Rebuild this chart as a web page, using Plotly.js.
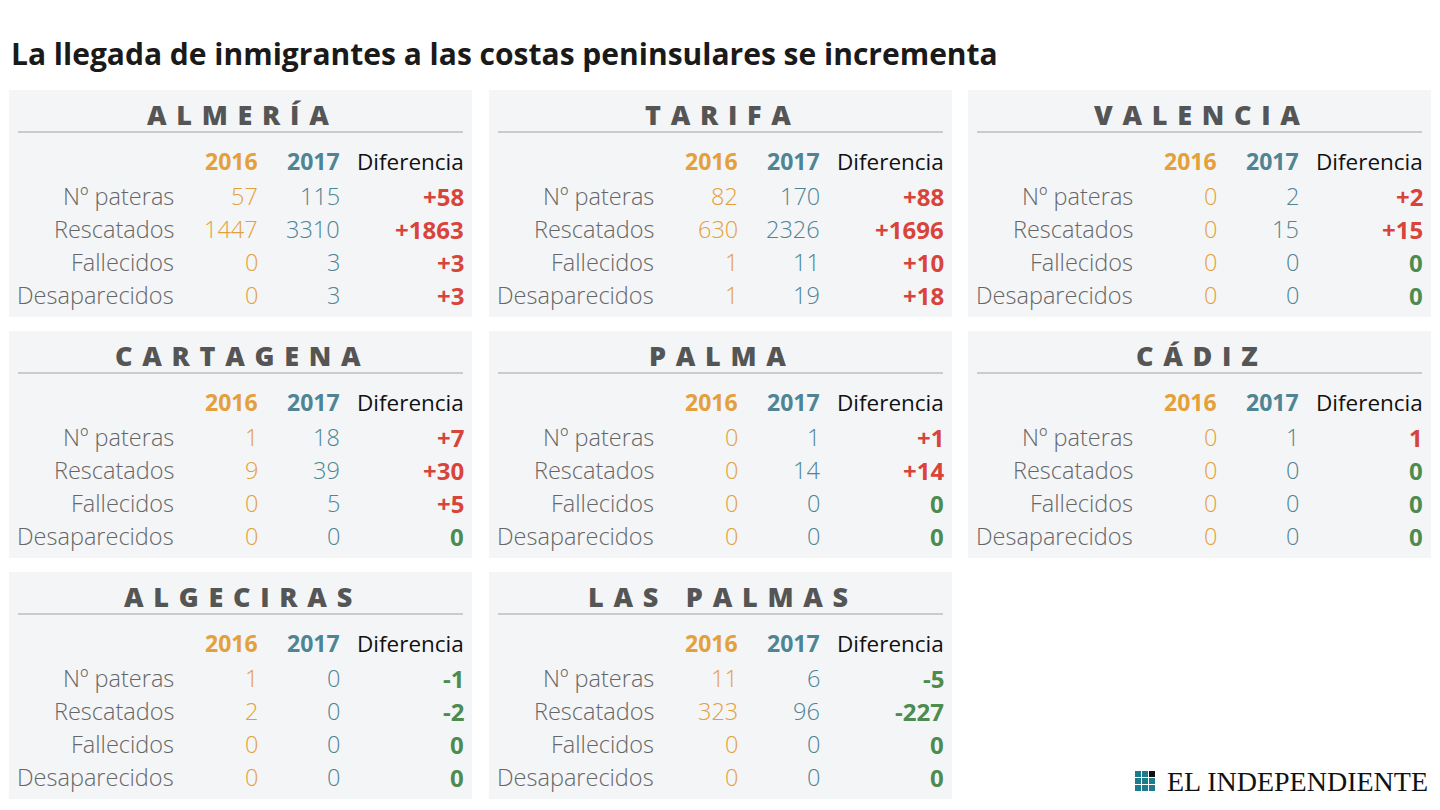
<!DOCTYPE html>
<html><head><meta charset="utf-8">
<script src="https://cdn.plot.ly/plotly-3.0.1.min.js"></script>
<style>html,body{margin:0;padding:0;background:#fff}#chart{width:1440px;height:810px}</style>
</head><body><div id="chart"></div>
<script>
// ---- data ----
const chartTitle = "La llegada de inmigrantes a las costas peninsulares se incrementa";
const cities = ["ALMERÍA", "TARIFA", "VALENCIA", "CARTAGENA", "PALMA", "CÁDIZ", "ALGECIRAS", "LAS PALMAS"];
const rowLabels = ["Nº pateras", "Rescatados", "Fallecidos", "Desaparecidos"];
const colHeaders = ["2016", "2017", "Diferencia"];
const values2016 = [
  [57, 1447, 0, 0],
  [82, 630, 1, 1],
  [0, 0, 0, 0],
  [1, 9, 0, 0],
  [0, 0, 0, 0],
  [0, 0, 0, 0],
  [1, 2, 0, 0],
  [11, 323, 0, 0]
];
const values2017 = [
  [115, 3310, 3, 3],
  [170, 2326, 11, 19],
  [2, 15, 0, 0],
  [18, 39, 5, 0],
  [1, 14, 0, 0],
  [1, 0, 0, 0],
  [0, 0, 0, 0],
  [6, 96, 0, 0]
];
const diffLabels = [
  ["+58", "+1863", "+3", "+3"],
  ["+88", "+1696", "+10", "+18"],
  ["+2", "+15", "0", "0"],
  ["+7", "+30", "+5", "0"],
  ["+1", "+14", "0", "0"],
  ["1", "0", "0", "0"],
  ["-1", "-2", "0", "0"],
  ["-5", "-227", "0", "0"]
];
const sourceLabel = "EL INDEPENDIENTE";

// ---- layout constants ----
const W = 1440, H = 810;
const panelLefts = [9, 489, 968];
const panelTops = [90, 331, 572];
const panelW = 463, panelH = 227;
const C = {
  bg: "#F4F5F7", line: "#BDBDBD", title: "#555555", label: "#666666",
  y16: "#E4A03A", y17: "#4E8494", pos: "#D8443A", neg: "#4D8B4F", head: "#111111"
};
const FONT = "'Open Sans', sans-serif";

function spaced(s) {
  return s.split(" ").map(w => w.split("").join(" \u200A")).join(" \u2002 ");
}

const shapes = [];
const annotations = [];

annotations.push({
  x: 9, y: 53, xref: "x", yref: "y", xanchor: "left", yanchor: "middle",
  text: chartTitle, showarrow: false,
  font: {family: FONT, size: 30, color: "#1a1a1a", weight: 700}
});

cities.forEach((city, i) => {
  const col = i % 3, row = Math.floor(i / 3);
  const L = panelLefts[col], T = panelTops[row];
  shapes.push({type: "rect", xref: "x", yref: "y", x0: L, x1: L + panelW, y0: T, y1: T + panelH,
    fillcolor: C.bg, line: {width: 0}, layer: "below"});
  shapes.push({type: "line", xref: "x", yref: "y", x0: L + 9, x1: L + 454, y0: T + 42, y1: T + 42,
    line: {color: C.line, width: 1.5}});
  annotations.push({x: L + panelW / 2 - 3, y: T + 24, xref: "x", yref: "y", xanchor: "center", yanchor: "middle",
    text: spaced(city), showarrow: false, font: {family: FONT, size: 27, color: C.title, weight: 800}});
  const colX = [L + 251, L + 333, L + 457];
  const headColors = [C.y16, C.y17, C.head];
  colHeaders.forEach((h, k) => {
    annotations.push({x: colX[k], y: T + 71, xref: "x", yref: "y", xanchor: "right", yanchor: "middle",
      text: h, showarrow: false,
      font: {family: FONT, size: k < 2 ? 23 : 22.5, color: headColors[k], weight: k < 2 ? 700 : 400}});
  });
  rowLabels.forEach((lab, r) => {
    const y = T + 106 + 33 * r;
    annotations.push({x: L + 167, y: y, xref: "x", yref: "y", xanchor: "right", yanchor: "middle",
      text: lab, showarrow: false, font: {family: FONT, size: 23.5, color: C.label, weight: 300}});
    annotations.push({x: colX[0], y: y, xref: "x", yref: "y", xanchor: "right", yanchor: "middle",
      text: String(values2016[i][r]), showarrow: false, font: {family: FONT, size: 23.5, color: C.y16, weight: 300}});
    annotations.push({x: colX[1], y: y, xref: "x", yref: "y", xanchor: "right", yanchor: "middle",
      text: String(values2017[i][r]), showarrow: false, font: {family: FONT, size: 23.5, color: C.y17, weight: 300}});
    const d = diffLabels[i][r];
    const isPos = d !== "0" && !d.startsWith("-");
    annotations.push({x: colX[2], y: y, xref: "x", yref: "y", xanchor: "right", yanchor: "middle",
      text: d, showarrow: false, font: {family: FONT, size: 24, color: isPos ? C.pos : C.neg, weight: 700}});
  });
});

// logo
const gx = 1135, gy = 771, cs = 6, gap = 1;
for (let r = 0; r < 3; r++) for (let c = 0; c < 3; c++) {
  shapes.push({type: "rect", xref: "x", yref: "y",
    x0: gx + c * (cs + gap), x1: gx + c * (cs + gap) + cs,
    y0: gy + r * (cs + gap), y1: gy + r * (cs + gap) + cs,
    fillcolor: (r === 0 && c === 2) ? "#111111" : "#1F7A8C", line: {width: 0}});
}
annotations.push({x: 1430, y: 781, xref: "x", yref: "y", xanchor: "right", yanchor: "middle",
  text: sourceLabel, showarrow: false, font: {family: "'Liberation Serif', 'DejaVu Serif', serif", size: 28, color: "#111"}});

const layout = {
  width: W, height: H, margin: {l: 0, r: 0, t: 0, b: 0},
  paper_bgcolor: "#fff", plot_bgcolor: "#fff",
  xaxis: {range: [0, W], visible: false, fixedrange: true},
  yaxis: {range: [H, 0], visible: false, fixedrange: true},
  shapes: shapes, annotations: annotations, showlegend: false
};
Plotly.newPlot("chart", [], layout, {displayModeBar: false, staticPlot: true});
</script></body></html>
